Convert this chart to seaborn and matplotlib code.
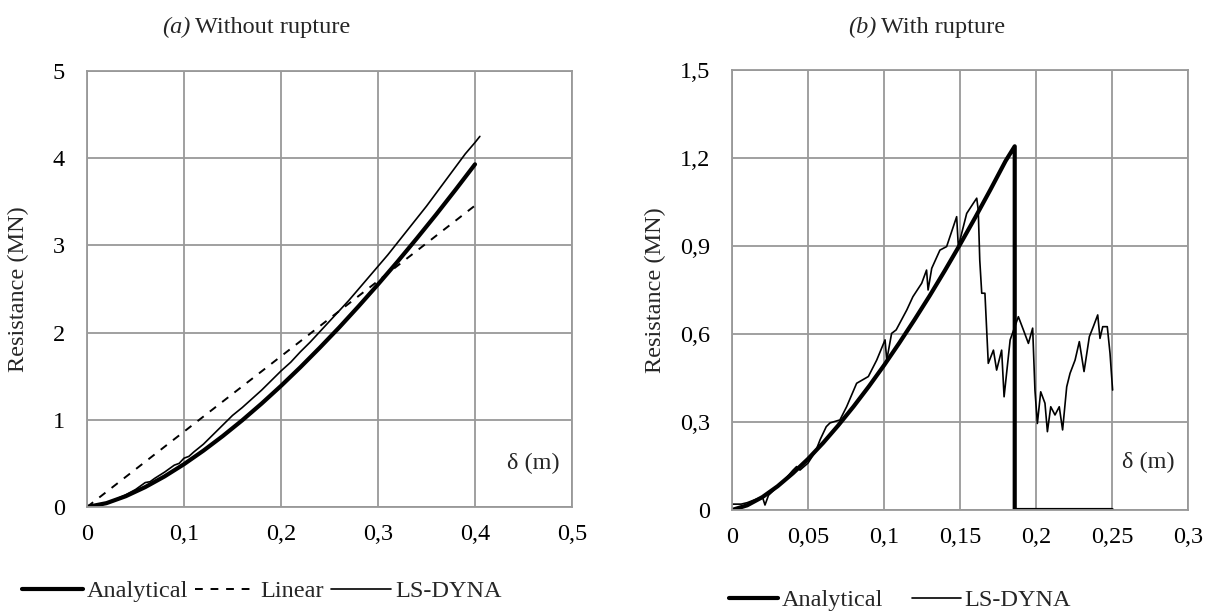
import matplotlib
matplotlib.use("Agg")
import matplotlib.pyplot as plt
import seaborn as sns
import pandas as pd
from matplotlib.ticker import FuncFormatter
from matplotlib.lines import Line2D

# ---------------- data ----------------
# (a) Without rupture
a_analytical_x = [0, 0.02, 0.04, 0.06, 0.08, 0.10, 0.12, 0.14, 0.16, 0.18, 0.20,
                  0.22, 0.24, 0.26, 0.28, 0.30, 0.32, 0.34, 0.36, 0.38, 0.40]
a_analytical_y = [0, 0.044, 0.124, 0.228, 0.351, 0.491, 0.646, 0.814, 0.994, 1.186, 1.389,
                  1.603, 1.827, 2.059, 2.302, 2.553, 2.812, 3.080, 3.355, 3.639, 3.93]
a_linear_x = [0, 0.405]
a_linear_y = [0, 3.50]
a_lsdyna_x = [0, 0.01, 0.02, 0.03, 0.04, 0.05, 0.06, 0.065, 0.07, 0.08, 0.09, 0.095, 0.10,
              0.105, 0.11, 0.12, 0.13, 0.14, 0.15, 0.16, 0.17, 0.18, 0.19, 0.20, 0.21,
              0.22, 0.23, 0.24, 0.25, 0.26, 0.27, 0.28, 0.29, 0.30, 0.31, 0.32, 0.33,
              0.34, 0.35, 0.36, 0.37, 0.38, 0.39, 0.40, 0.405]
a_lsdyna_y = [0, 0.01, 0.04, 0.09, 0.14, 0.20, 0.28, 0.29, 0.33, 0.40, 0.48, 0.50, 0.56,
              0.58, 0.63, 0.72, 0.83, 0.94, 1.05, 1.14, 1.24, 1.34, 1.45, 1.56, 1.66,
              1.78, 1.89, 2.01, 2.13, 2.25, 2.37, 2.50, 2.63, 2.76, 2.89, 3.03, 3.17,
              3.31, 3.45, 3.60, 3.75, 3.90, 4.05, 4.18, 4.25]

# (b) With rupture
b_analytical_x = [0, 0.01, 0.02, 0.03, 0.04, 0.05, 0.06, 0.07, 0.08, 0.09, 0.10, 0.11,
                  0.12, 0.13, 0.14, 0.15, 0.16, 0.17, 0.18, 0.186, 0.186, 0.25]
b_analytical_y = [0, 0.016, 0.044, 0.081, 0.125, 0.174, 0.229, 0.289, 0.353, 0.421, 0.493,
                  0.569, 0.648, 0.730, 0.816, 0.905, 0.997, 1.092, 1.190, 1.24, 0, 0]
b_lsdyna_x = [0, 0.006, 0.010, 0.015, 0.020, 0.0217, 0.024, 0.030, 0.035, 0.040, 0.0425,
              0.0447, 0.050, 0.055, 0.058, 0.062, 0.0645, 0.071, 0.0754, 0.082, 0.0897,
              0.0952, 0.1007, 0.1018, 0.105, 0.108, 0.115, 0.119, 0.1248, 0.128, 0.129,
              0.1314, 0.1368, 0.1412, 0.1478, 0.1489, 0.1544, 0.1588, 0.161, 0.162, 0.163,
              0.1643, 0.1664, 0.1686, 0.172, 0.1741, 0.1774, 0.179, 0.183, 0.1884, 0.1917,
              0.195, 0.1978, 0.1993, 0.2009, 0.2031, 0.2059, 0.2075, 0.2097, 0.2125, 0.2153,
              0.2175, 0.2202, 0.2224, 0.2257, 0.2285, 0.2316, 0.2351, 0.2377, 0.2406, 0.2421,
              0.2439, 0.2469, 0.2487, 0.2504]
b_lsdyna_y = [0.020, 0.020, 0.025, 0.035, 0.045, 0.017, 0.050, 0.080, 0.105, 0.135, 0.148,
              0.136, 0.160, 0.200, 0.240, 0.284, 0.297, 0.307, 0.352, 0.432, 0.455,
              0.511, 0.580, 0.511, 0.602, 0.614, 0.682, 0.727, 0.773, 0.818, 0.750,
              0.824, 0.886, 0.898, 1.000, 0.898, 1.011, 1.046, 1.063, 1.023, 0.852,
              0.739, 0.739, 0.500, 0.545, 0.477, 0.545, 0.386, 0.580, 0.659, 0.614,
              0.568, 0.620, 0.409, 0.295, 0.403, 0.364, 0.267, 0.352, 0.324, 0.352,
              0.273, 0.420, 0.466, 0.511, 0.574, 0.472, 0.591, 0.625, 0.665, 0.585,
              0.625, 0.625, 0.534, 0.409]

a_xticks = [0, 0.1, 0.2, 0.3, 0.4, 0.5]
a_yticks = [0, 1, 2, 3, 4, 5]
b_xticks = [0, 0.05, 0.1, 0.15, 0.2, 0.25, 0.3]
b_yticks = [0, 0.3, 0.6, 0.9, 1.2, 1.5]

# ---------------- style ----------------
sns.set_theme(style="white")
FONT = ["Liberation Serif", "DejaVu Serif"]
plt.rcParams["font.family"] = FONT
FS = 17.5
plt.rcParams["font.size"] = FS
GRID = "#999999"

fig = plt.figure(figsize=(12.15, 6.14), dpi=100)
ax_a = fig.add_axes([87/1215, 1-507/614, 485/1215, 436/614])
ax_b = fig.add_axes([732/1215, 1-510/614, 456/1215, 440/614])

def comma_fmt(v, pos):
    s = ("%.2f" % v).rstrip("0").rstrip(".")
    return s.replace(".", ",")

def style_axis(ax, xticks, yticks):
    ax.set_xlim(xticks[0], xticks[-1])
    ax.set_ylim(yticks[0], yticks[-1])
    ax.set_xticks(xticks)
    ax.set_yticks(yticks)
    ax.xaxis.set_major_formatter(FuncFormatter(comma_fmt))
    ax.yaxis.set_major_formatter(FuncFormatter(comma_fmt))
    ax.grid(True, color=GRID, linewidth=1.3)
    ax.set_axisbelow(True)
    for s in ax.spines.values():
        s.set_color(GRID)
        s.set_linewidth(1.3)
    ax.tick_params(axis="both", direction="out", length=6, width=1.3, color=GRID,
                   labelsize=FS, labelcolor="black")
    ax.tick_params(axis="y", pad=10)
    ax.tick_params(axis="x", pad=6)
    ax.set_xlabel("")
    ax.set_ylabel("Resistance (MN)", fontsize=FS)

# ---------------- panel a ----------------
sns.lineplot(x=a_analytical_x, y=a_analytical_y, ax=ax_a, color="black", lw=3.0,
             estimator=None, sort=False, label="Analytical")
sns.lineplot(x=a_linear_x, y=a_linear_y, ax=ax_a, color="black", lw=1.4,
             estimator=None, sort=False, label="Linear")
ax_a.lines[-1].set_dashes([4, 4])
sns.lineplot(x=a_lsdyna_x, y=a_lsdyna_y, ax=ax_a, color="black", lw=1.2,
             estimator=None, sort=False, label="LS-DYNA")
style_axis(ax_a, a_xticks, a_yticks)
ax_a.yaxis.set_label_coords((29-87)/485, 0.5)
ax_a.text(0.975, 0.10, "δ (m)", transform=ax_a.transAxes, ha="right", va="center",
          fontsize=FS)
ax_a.get_legend().remove()

# ---------------- panel b ----------------
sns.lineplot(x=b_analytical_x, y=b_analytical_y, ax=ax_b, color="black", lw=3.0,
             estimator=None, sort=False, label="Analytical")
sns.lineplot(x=b_lsdyna_x, y=b_lsdyna_y, ax=ax_b, color="black", lw=1.2,
             estimator=None, sort=False, label="LS-DYNA")
style_axis(ax_b, b_xticks, b_yticks)
ax_b.yaxis.set_label_coords((666-732)/456, 0.5)
ax_b.text(0.971, 0.107, "δ (m)", transform=ax_b.transAxes, ha="right", va="center",
          fontsize=FS)
ax_b.get_legend().remove()

# ---------------- legends ----------------
h_thick = Line2D([], [], color="black", lw=3.0)
h_dash = Line2D([], [], color="black", lw=1.4, dashes=[4, 4])
h_thin = Line2D([], [], color="black", lw=1.2)
fig.legend([h_thick, h_dash, h_thin], ["Analytical", "Linear", "LS-DYNA"],
           loc="center", bbox_to_anchor=(262/1215, 1-591/614), ncol=3, frameon=False,
           fontsize=FS, handlelength=2.5, handletextpad=0.15, columnspacing=0.3)
fig.legend([h_thick, h_thin], ["Analytical", "LS-DYNA"],
           loc="center", bbox_to_anchor=(900/1215, 1-600/614), ncol=2, frameon=False,
           fontsize=FS, handlelength=2.0, handletextpad=0.15, columnspacing=1.2)

# ---------------- titles ----------------
def title(xpix, letter, rest):
    t1 = fig.text(xpix/1215, 1-27/614, letter, fontstyle="italic", fontsize=FS,
                  ha="left", va="center")
    fig.canvas.draw()
    bb = t1.get_window_extent()
    fig.text((bb.x1 + 5)/1215, 1-27/614, rest, fontsize=FS, ha="left", va="center")

title(162, "(a)", "Without rupture")
title(848, "(b)", "With rupture")

fig.savefig("out.png", dpi=100)
